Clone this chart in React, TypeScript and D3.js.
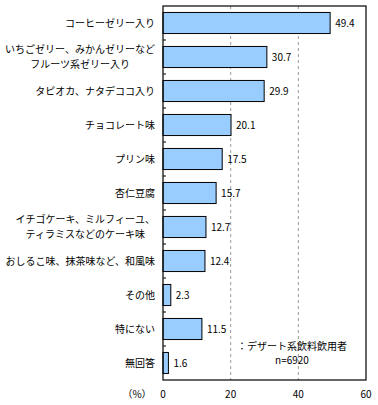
import React from "react";
import * as d3 from "d3";

const categories: string[][] = [
  ["コーヒーゼリー入り"],
  ["いちごゼリー、みかんゼリーなど", "フルーツ系ゼリー入り"],
  ["タピオカ、ナタデココ入り"],
  ["チョコレート味"],
  ["プリン味"],
  ["杏仁豆腐"],
  ["イチゴケーキ、ミルフィーユ、", "ティラミスなどのケーキ味"],
  ["おしるこ味、抹茶味など、和風味"],
  ["その他"],
  ["特にない"],
  ["無回答"],
];
const values: number[] = [49.4, 30.7, 29.9, 20.1, 17.5, 15.7, 12.7, 12.4, 2.3, 11.5, 1.6];
const xTicks: number[] = [0, 20, 40, 60];
const noteLines: string[] = ["：デザート系飲料飲用者", "n=6920"];
const unitLabel = "（%）";

const W = 378, H = 405;
const left = 163, right = 366, top = 6, bottom = 380;
const FONT = "'Noto Sans CJK JP', sans-serif";

function measure(t: string, size: number): number {
  const c = document.createElement("canvas").getContext("2d");
  if (!c) return t.length * size;
  c.font = `${size}px ${FONT}`;
  return c.measureText(t).width;
}

export default function App() {
  const x = d3.scaleLinear().domain([0, 60]).range([left, right]);
  const y = d3.scaleBand<number>().domain(d3.range(values.length)).range([top, bottom]).paddingInner(0.38).paddingOuter(0.19);
  const step = y.step();
  return (
    <svg width={W} height={H} style={{ position: "absolute", left: 0, top: 0 }} fontFamily={FONT}>
      <rect x={0} y={0} width={W} height={H} fill="#fff" />
      {xTicks.filter(t => t > 0 && t < 60).map(t => (
        <line key={t} x1={x(t)} x2={x(t)} y1={top} y2={bottom} stroke="#999" strokeDasharray="3,3" />
      ))}
      {values.map((v, i) => (
        <g key={i}>
          <rect x={x(0)} y={y(i)!} width={x(v) - x(0)} height={y.bandwidth()} fill="#99CCFF" stroke="#000" strokeWidth={1} />
          <text x={x(v) + 5} y={y(i)! + y.bandwidth() / 2} dy="0.35em" fontSize={10} fill="#000">{v.toFixed(1)}</text>
        </g>
      ))}
      {d3.range(1, values.length).map(i => (
        <line key={i} x1={left} x2={left + 3} y1={top + step * i} y2={top + step * i} stroke="#000" />
      ))}
      <rect x={left} y={top} width={right - left} height={bottom - top} fill="none" stroke="#000" strokeWidth={1.2} />
      {categories.map((lines, i) => {
        const cy = y(i)! + y.bandwidth() / 2;
        if (lines.length === 1) {
          return <text key={i} x={155} y={cy} dy="0.35em" textAnchor="end" fontSize={10}>{lines[0]}</text>;
        }
        const wmax = Math.max(...lines.map(l => measure(l, 10)));
        const cx = 155 - wmax / 2;
        return (
          <g key={i}>
            {lines.map((l, j) => (
              <text key={j} x={cx} y={cy + (j - (lines.length - 1) / 2) * 14.5} dy="0.35em" textAnchor="middle" fontSize={10}>{l}</text>
            ))}
          </g>
        );
      })}
      {xTicks.map(t => (
        <text key={t} x={x(t)} y={394} dy="0.35em" textAnchor="middle" fontSize={10}>{t}</text>
      ))}
      <text x={137} y={394} dy="0.35em" textAnchor="middle" fontSize={10}>{unitLabel}</text>
      {noteLines.map((l, j) => (
        <text key={j} x={292} y={346 + j * 14.5} dy="0.35em" textAnchor="middle" fontSize={10}>{l}</text>
      ))}
    </svg>
  );
}
